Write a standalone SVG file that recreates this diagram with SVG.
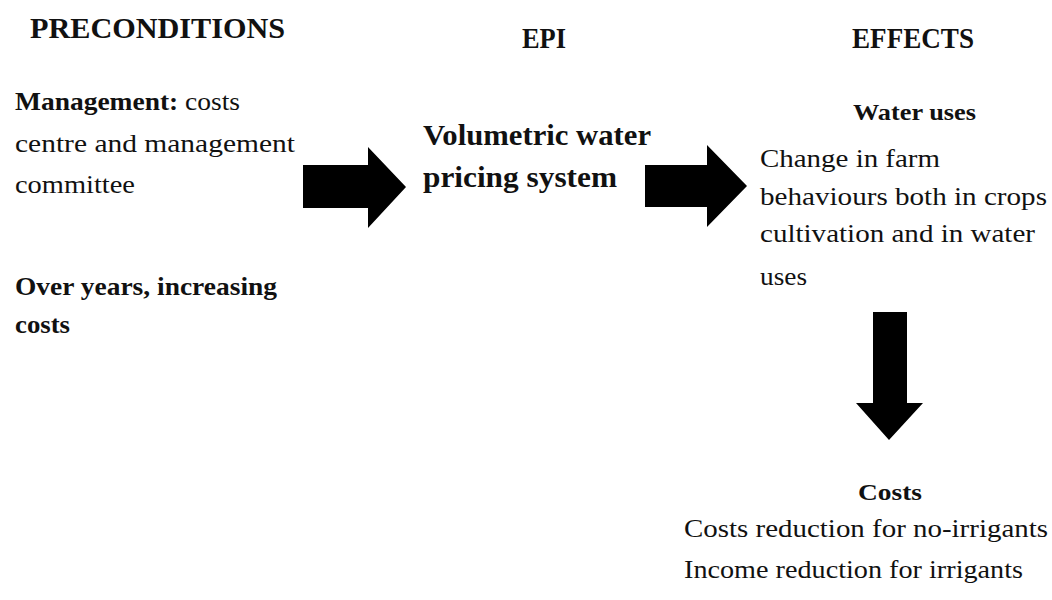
<svg xmlns="http://www.w3.org/2000/svg" width="1052" height="600" viewBox="0 0 1052 600">
  <style>
    text { font-family: 'Liberation Serif', 'DejaVu Serif', 'Times New Roman', serif; fill: #111; }
    .head { font-size: 30px; font-weight: bold; }
    .body { font-size: 26px; }
    .bold { font-weight: bold; }
    .epi { font-size: 30px; font-weight: bold; }
    .sub { font-size: 23px; font-weight: bold; }
    .arrow { fill: #000; }
  </style>
  <rect width="1052" height="600" fill="#fff"/>

  <!-- column headings -->
  <g id="headings" font-family="Liberation Serif, DejaVu Serif, serif">
    <text class="head" x="30" y="38" textLength="255" lengthAdjust="spacingAndGlyphs">PRECONDITIONS</text>
    <text class="head" x="522" y="48" textLength="44" lengthAdjust="spacingAndGlyphs">EPI</text>
    <text class="head" x="852" y="48" textLength="122" lengthAdjust="spacingAndGlyphs">EFFECTS</text>
  </g>

  <!-- preconditions -->
  <g id="precondition-management">
    <text class="body" x="15" y="110" textLength="225" lengthAdjust="spacingAndGlyphs"><tspan class="bold">Management:</tspan> costs</text>
    <text class="body" x="15" y="152" textLength="280" lengthAdjust="spacingAndGlyphs">centre and management</text>
    <text class="body" x="15" y="193" textLength="120" lengthAdjust="spacingAndGlyphs">committee</text>
  </g>
  <g id="precondition-costs">
    <text class="body bold" x="15" y="295" textLength="262" lengthAdjust="spacingAndGlyphs">Over years, increasing</text>
    <text class="body bold" x="15" y="333" textLength="55" lengthAdjust="spacingAndGlyphs">costs</text>
  </g>

  <!-- instrument -->
  <g id="epi-volumetric">
    <text class="epi" x="423" y="145" textLength="228" lengthAdjust="spacingAndGlyphs">Volumetric water</text>
    <text class="epi" x="423" y="187" textLength="194" lengthAdjust="spacingAndGlyphs">pricing system</text>
  </g>

  <!-- effects -->
  <g id="effect-water-uses">
    <text class="sub" x="853" y="120" textLength="123" lengthAdjust="spacingAndGlyphs">Water uses</text>
    <text class="body" x="760" y="167" textLength="180" lengthAdjust="spacingAndGlyphs">Change in farm</text>
    <text class="body" x="760" y="205" textLength="287" lengthAdjust="spacingAndGlyphs">behaviours both in crops</text>
    <text class="body" x="760" y="242" textLength="275" lengthAdjust="spacingAndGlyphs">cultivation and in water</text>
    <text class="body" x="760" y="285" textLength="47" lengthAdjust="spacingAndGlyphs">uses</text>
  </g>
  <g id="effect-costs">
    <text class="sub" x="858" y="500" textLength="64" lengthAdjust="spacingAndGlyphs">Costs</text>
    <text class="body" x="684" y="537" textLength="364" lengthAdjust="spacingAndGlyphs">Costs reduction for no-irrigants</text>
    <text class="body" x="684" y="578" textLength="339" lengthAdjust="spacingAndGlyphs">Income reduction for irrigants</text>
  </g>

  <!-- block arrows -->
  <g id="connectors">
    <path class="arrow" d="M303,165 H368 V147 L406,187 L368,228 V208 H303 Z"/>
    <path class="arrow" d="M645,165 H707 V145 L747,186 L707,227 V207 H645 Z"/>
    <path class="arrow" d="M873,312 H907 V403 H923 L889,440 L856,403 H873 Z"/>
  </g>
</svg>
